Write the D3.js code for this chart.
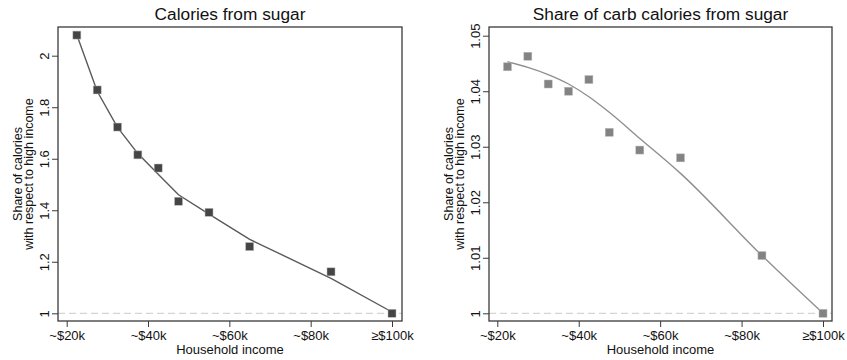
<!DOCTYPE html>
<html>
<head>
<meta charset="utf-8">
<script src="https://cdn.jsdelivr.net/npm/d3@7"></script>
<style>
  body { margin: 0; background: #fff; }
  svg text { font-family: "Liberation Sans", Arial, sans-serif; fill: #111; }
</style>
</head>
<body>
<div id="main"></div>
<script>
// income groups (thousands of dollars), shared by both panels
let incomeK = [22.5, 27.5, 32.5, 37.5, 42.5, 47.5, 55, 65, 85, 100];
let incomeTicks = [20, 40, 60, 80, 100];
let incomeLabels = ['~$20k', '~$40k', '~$60k', '~$80k', '\u2265$100k'];

// left panel: calories from sugar
let sugarShare = [2.080, 1.867, 1.723, 1.615, 1.564, 1.435, 1.392, 1.259, 1.161, 1.0];
let sugarFit = [2.080, 1.862, 1.722, 1.620, 1.540, 1.460, 1.385, 1.287, 1.136, 1.005];
let sugarTicks = [1, 1.2, 1.4, 1.6, 1.8, 2];

// right panel: share of carb calories from sugar
let carbShare = [1.0444, 1.0463, 1.0413, 1.0400, 1.0421, 1.0326, 1.0294, 1.0280, 1.0104, 1.0];
let carbFit = [1.0453, 1.0443, 1.0430, 1.0413, 1.0390, 1.0362, 1.0315, 1.0252, 1.0104, 1.0];
let carbTicks = [1, 1.01, 1.02, 1.03, 1.04, 1.05];

let width = 847;
let height = 360;

let svg = d3.select('#main')
  .append('svg')
  .attr('width', width)
  .attr('height', height);

let panels = [
  {
    title: 'Calories from sugar',
    values: sugarShare, fit: sugarFit, curve: d3.curveLinear,
    yDomain: [1, 2], yTicks: sugarTicks, yFormat: d3.format('~g'),
    frame: [58, 402], xRange: [66.7, 392], yRange: [313.3, 55.7],
    marker: '#454545', line: '#5a5a5a'
  },
  {
    title: 'Share of carb calories from sugar',
    values: carbShare, fit: carbFit, curve: d3.curveMonotoneX,
    yDomain: [1, 1.05], yTicks: carbTicks, yFormat: d3.format('~g'),
    frame: [489, 832], xRange: [497.3, 823], yRange: [313.3, 35.7],
    marker: '#838383', line: '#8f8f8f'
  }
];

let frameTop = 27;
let frameBottom = 321;
let fontFamily = '"Liberation Sans", Arial, sans-serif';

panels.forEach(drawPanel);

function drawPanel(p) {
  let g = svg.append('g');

  let x = d3.scaleLinear().domain([20, 100]).range(p.xRange);
  let y = d3.scaleLinear().domain(p.yDomain).range(p.yRange);

  // reference line at 1
  g.append('line')
    .attr('x1', p.frame[0]).attr('x2', p.frame[1])
    .attr('y1', y(1)).attr('y2', y(1))
    .attr('stroke', '#d4d4d4')
    .attr('stroke-width', 1.2)
    .attr('stroke-dasharray', '7,4');

  // fitted curve
  let line = d3.line()
    .x(function(d, i) { return x(incomeK[i]); })
    .y(function(d) { return y(d); })
    .curve(p.curve);

  g.append('path')
    .datum(p.fit)
    .attr('d', line)
    .attr('fill', 'none')
    .attr('stroke', p.line)
    .attr('stroke-width', 1.4);

  // square markers
  g.selectAll('rect.pt')
    .data(p.values)
    .enter().append('rect')
    .attr('class', 'pt')
    .attr('x', function(d, i) { return x(incomeK[i]) - 4; })
    .attr('y', function(d) { return y(d) - 4; })
    .attr('width', 8)
    .attr('height', 8)
    .attr('fill', p.marker)
    .attr('stroke', '#bbb')
    .attr('stroke-width', 0.5);

  // plot frame
  g.append('rect')
    .attr('x', p.frame[0]).attr('y', frameTop)
    .attr('width', p.frame[1] - p.frame[0])
    .attr('height', frameBottom - frameTop)
    .attr('fill', 'none')
    .attr('stroke', '#3a3a3a')
    .attr('stroke-width', 1.3);

  // x axis
  let xAxis = g.append('g')
    .attr('transform', 'translate(0,' + frameBottom + ')')
    .call(d3.axisBottom(x)
      .tickValues(incomeTicks)
      .tickSize(6)
      .tickPadding(4)
      .tickFormat(function(d, i) { return incomeLabels[i]; }));
  xAxis.select('.domain').remove();
  xAxis.selectAll('line').attr('stroke', '#3a3a3a');
  xAxis.selectAll('text').attr('font-size', 13).attr('fill', '#111')
    .attr('font-family', fontFamily);

  g.append('text')
    .attr('x', (p.frame[0] + p.frame[1]) / 2)
    .attr('y', 354)
    .attr('text-anchor', 'middle')
    .attr('font-size', 13)
    .text('Household income');

  // y axis with rotated labels
  let yAxis = g.append('g')
    .attr('transform', 'translate(' + p.frame[0] + ',0)')
    .call(d3.axisLeft(y)
      .tickValues(p.yTicks)
      .tickSize(6)
      .tickFormat(p.yFormat));
  yAxis.select('.domain').remove();
  yAxis.selectAll('line').attr('stroke', '#3a3a3a');
  yAxis.selectAll('text')
    .attr('x', null).attr('dy', null)
    .attr('font-size', 13).attr('fill', '#111')
    .attr('font-family', fontFamily)
    .attr('text-anchor', 'middle')
    .attr('transform', 'translate(-9,0) rotate(-90)');

  let midY = (frameTop + frameBottom) / 2;
  let yTitle = g.append('text')
    .attr('transform', 'translate(' + (p.frame[0] - 36) + ',' + midY + ') rotate(-90)')
    .attr('text-anchor', 'middle')
    .attr('font-size', 12.5);
  yTitle.append('tspan').attr('x', 0).attr('y', 0).text('Share of calories');
  yTitle.append('tspan').attr('x', 0).attr('y', 11).text('with respect to high income');

  // title
  g.append('text')
    .attr('x', (p.frame[0] + p.frame[1]) / 2)
    .attr('y', 20)
    .attr('text-anchor', 'middle')
    .attr('font-size', 17.3)
    .text(p.title);
}
</script>
</body>
</html>
